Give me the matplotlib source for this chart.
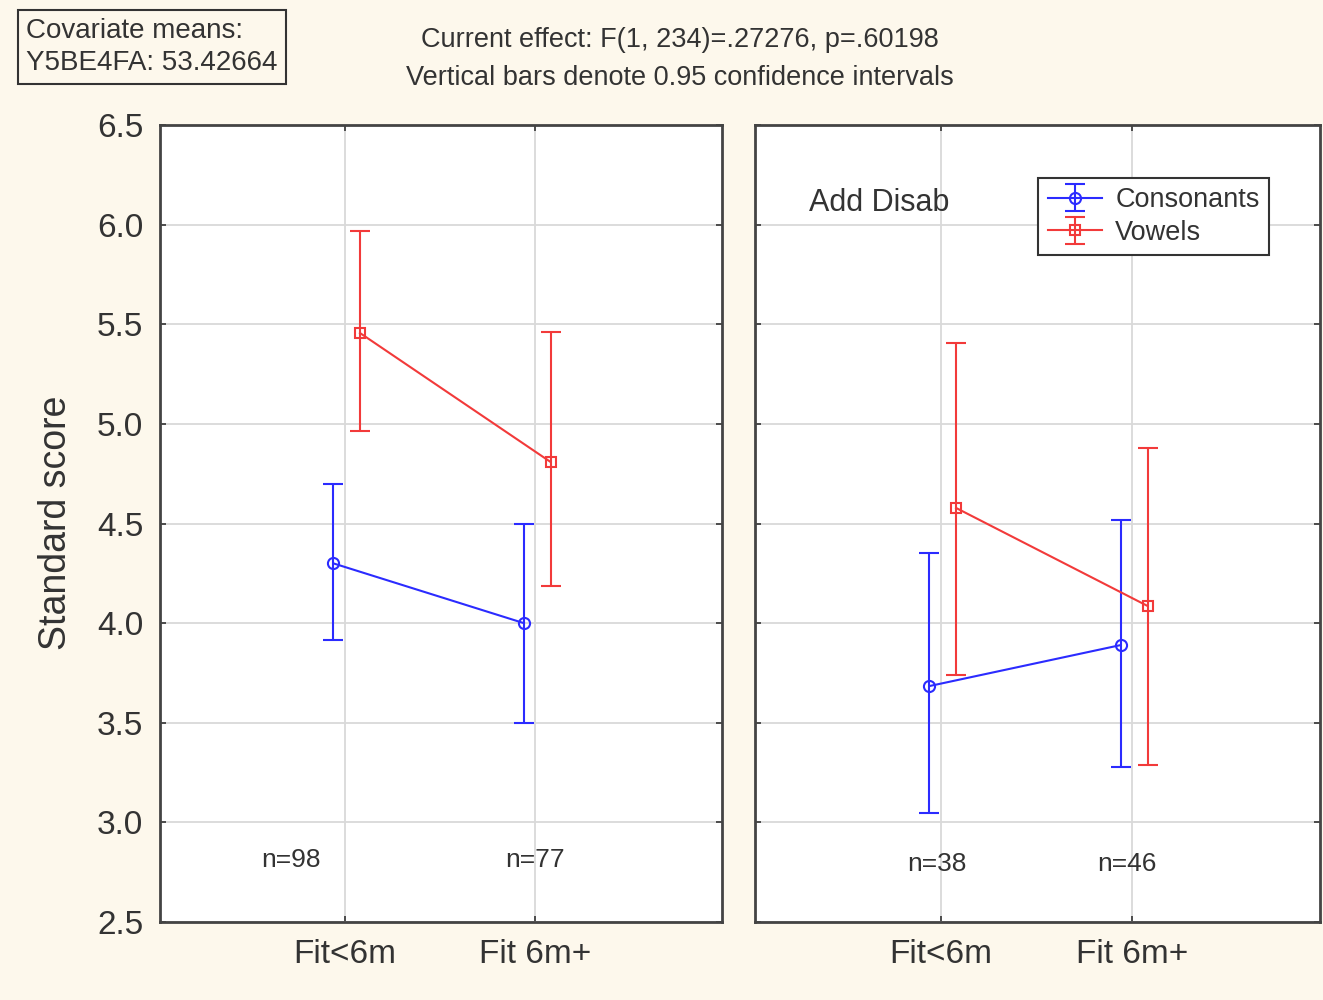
import matplotlib
matplotlib.use("Agg")
import matplotlib.pyplot as plt

plt.rcParams['font.family'] = ['Liberation Sans', 'DejaVu Sans']

groups = ['Fit<6m', 'Fit 6m+']

# left panel (no additional disability)
cons_left = [4.30, 4.00]
cons_left_lo = [3.915, 3.50]
cons_left_hi = [4.70, 4.50]
vow_left = [5.456, 4.809]
vow_left_lo = [4.964, 4.186]
vow_left_hi = [5.968, 5.461]
n_left = ['n=98', 'n=77']

# right panel (Add Disab)
cons_right = [3.684, 3.890]
cons_right_lo = [3.047, 3.278]
cons_right_hi = [4.352, 4.518]
vow_right = [4.578, 4.086]
vow_right_lo = [3.740, 3.288]
vow_right_hi = [5.406, 4.879]
n_right = ['n=38', 'n=46']

bg = '#fdf8ec'
blue = '#2b2bff'
red = '#f23a3a'
txt = '#333333'

fig = plt.figure(figsize=(13.23, 10), dpi=100, facecolor=bg)
ax1 = fig.add_axes([0.1209, 0.078, 0.4248, 0.797])
ax2 = fig.add_axes([0.5707, 0.078, 0.4270, 0.797])


def panel(ax, cons, clo, chi, vow, vlo, vhi, nlab, ny, nshift):
    xs = list(range(len(groups)))
    xb = [x - 0.06 for x in xs]
    xr = [x + 0.08 for x in xs]
    ecb = [[c - l for c, l in zip(cons, clo)], [h - c for c, h in zip(cons, chi)]]
    ecr = [[v - l for v, l in zip(vow, vlo)], [h - v for v, h in zip(vow, vhi)]]
    ax.errorbar(xb, cons, yerr=ecb, color=blue, lw=1.5, marker='o', ms=8,
                mfc='none', mew=1.5, capsize=7, capthick=1.5, label='Consonants', zorder=3)
    ax.errorbar(xr, vow, yerr=ecr, color=red, lw=1.5, marker='s', ms=7,
                mfc='none', mew=1.5, capsize=7, capthick=1.5, label='Vowels', zorder=3)
    for x, s, d in zip(xs, nlab, nshift):
        ax.text(x + d, ny, s, ha='center', va='center', fontsize=19, color=txt)
    ax.set_xlim(-0.97, 1.98)
    ax.set_ylim(2.5, 6.5)
    ax.set_xticks(xs)
    ax.set_xticklabels(groups)
    ax.set_yticks([2.5, 3.0, 3.5, 4.0, 4.5, 5.0, 5.5, 6.0, 6.5])
    ax.grid(True, color='#d9d9d9', lw=1.3, zorder=0)
    ax.set_axisbelow(True)
    ax.tick_params(direction='in', length=4, width=1.2, top=True, right=True,
                   labelsize=24, colors=txt, pad=12)
    for sp in ax.spines.values():
        sp.set_color('#444444')
        sp.set_linewidth(2)
    ax.set_facecolor('white')


panel(ax1, cons_left, cons_left_lo, cons_left_hi, vow_left, vow_left_lo, vow_left_hi,
      n_left, 2.81, [-0.28, 0.0])
ax1.set_yticklabels(['2.5', '3.0', '3.5', '4.0', '4.5', '5.0', '5.5', '6.0', '6.5'])

panel(ax2, cons_right, cons_right_lo, cons_right_hi, vow_right, vow_right_lo, vow_right_hi,
      n_right, 2.79, [-0.02, -0.03])
ax2.set_yticklabels([])
ax2.text(-0.69, 6.11, 'Add Disab', ha='left', va='center', fontsize=22, color=txt)

leg = ax2.legend(loc='upper left', bbox_to_anchor=(0.501, 0.934), borderaxespad=0,
                 fancybox=False, fontsize=19.5, handlelength=2.0, handletextpad=0.5,
                 labelspacing=0.25, borderpad=0.35, framealpha=1)
leg.get_frame().set_edgecolor('#333333')
leg.get_frame().set_linewidth(1.5)
for t in leg.get_texts():
    t.set_color(txt)

fig.text(0.042, 0.477, 'Standard score', rotation=90, ha='center', va='center',
         fontsize=27, color=txt)

fig.text(0.514, 0.960, 'Current effect: F(1, 234)=.27276, p=.60198',
         ha='center', va='center', fontsize=19.5, color=txt)
fig.text(0.514, 0.922, 'Vertical bars denote 0.95 confidence intervals',
         ha='center', va='center', fontsize=19.5, color=txt)

fig.text(0.020, 0.953, 'Covariate means:\nY5BE4FA: 53.42664', ha='left', va='center',
         fontsize=20, color=txt, linespacing=1.3,
         bbox=dict(boxstyle='square,pad=0.3', fc='none', ec='#333333', lw=1.5))

fig.savefig('out.png', dpi=100, facecolor=bg)
